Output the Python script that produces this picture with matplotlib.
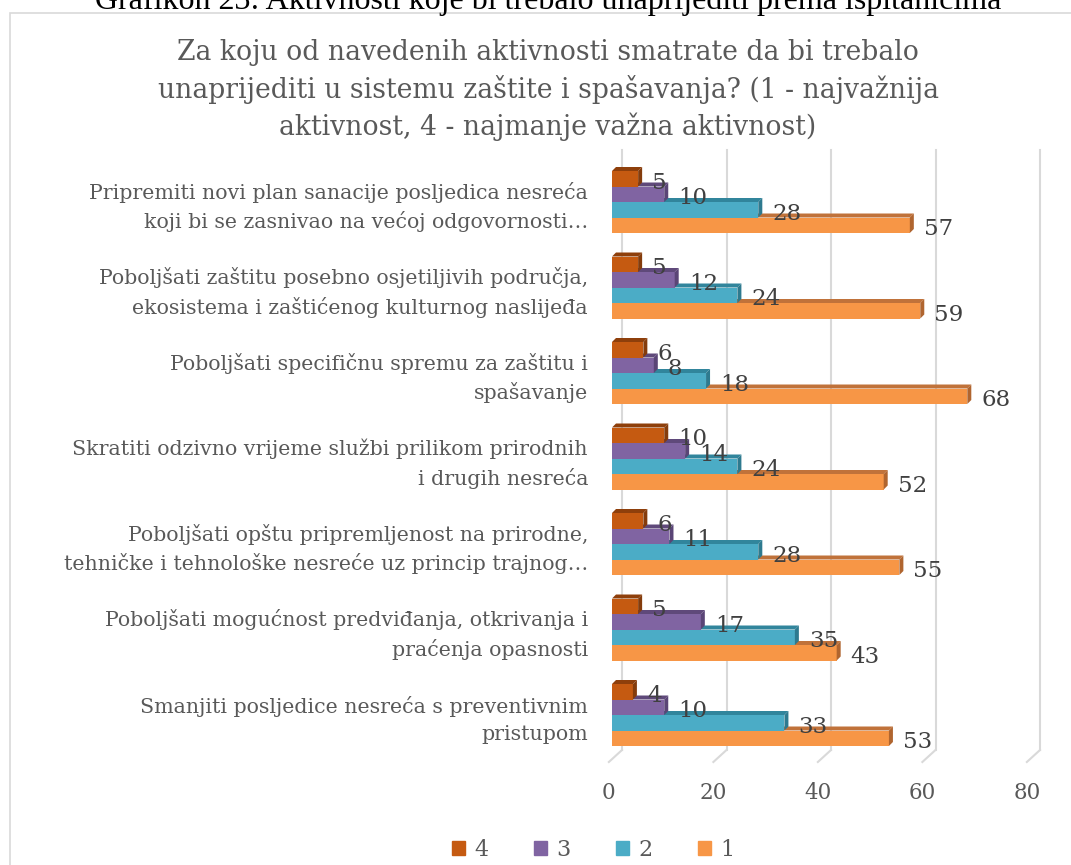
#!/usr/bin/env python3

import matplotlib.pyplot as plt
from matplotlib.patches import Polygon, Rectangle
import numpy as np

# data, top group first
categories = [
    "Pripremiti novi plan sanacije posljedica nesreća\nkoji bi se zasnivao na većoj odgovornosti…",
    "Poboljšati zaštitu posebno osjetiljivih područja,\nekosistema i zaštićenog kulturnog naslijeđa",
    "Poboljšati specifičnu spremu za zaštitu i\nspašavanje",
    "Skratiti odzivno vrijeme službi prilikom prirodnih\ni drugih nesreća",
    "Poboljšati opštu pripremljenost na prirodne,\ntehničke i tehnološke nesreće uz princip trajnog…",
    "Poboljšati mogućnost predviđanja, otkrivanja i\npraćenja opasnosti",
    "Smanjiti posljedice nesreća s preventivnim\npristupom",
]
series_names = ["4", "3", "2", "1"]
vals_4 = [5, 5, 6, 10, 6, 5, 4]
vals_3 = [10, 12, 8, 14, 11, 17, 10]
vals_2 = [28, 24, 18, 24, 28, 35, 33]
vals_1 = [57, 59, 68, 52, 55, 43, 53]
x_ticks = [0, 20, 40, 60, 80]

front_colors = ["#C55A11", "#8064A2", "#4BACC6", "#F79646"]
top_colors = ["#8E3F0B", "#5F497A", "#31859C", "#C0723A"]
side_colors = ["#843C0C", "#5A4576", "#2E7A8F", "#B0652F"]

serif = "DejaVu Serif"

W, H = 1071, 865
fig = plt.figure(figsize=(W / 100, H / 100), dpi=100)

# chart border
fig.patches.append(Rectangle((10 / W, -0.01), 1.1, (H - 13) / H + 0.01,
                             transform=fig.transFigure, fill=False,
                             edgecolor="#D9D9D9", lw=1.2))

# caption above the chart (cut off at the top)
fig.text(548 / W, 1 - 9 / H, "Grafikon 23: Aktivnosti koje bi trebalo unaprijediti prema ispitanicima",
         ha="center", va="baseline", fontsize=23, family="Liberation Serif", color="black")

fig.text(548 / W, 1 - 90 / H,
         "Za koju od navedenih aktivnosti smatrate da bi trebalo\n"
         "unaprijediti u sistemu zaštite i spašavanja? (1 - najvažnija\n"
         "aktivnost, 4 - najmanje važna aktivnost)",
         ha="center", va="center", fontsize=19.2, family=serif,
         color="#595959", linespacing=1.4)

# plot area in pixels
left, right, top, bottom = 612, 1030, 150, 750
ax = fig.add_axes([left / W, 1 - bottom / H, (right - left) / W, (bottom - top) / H])
ax.set_xlim(0, 80)
pitch = 85.5
ax.set_ylim(6 + 35 / pitch, -52 / pitch)
ax.axis("off")

px_x = 80 / (right - left)
px_y = 1 / pitch
h = 15.5 * px_y
dx, dy = 4 * px_x, -4 * px_y
gx, gy = 10 * px_x, 12 * px_y
ymax = 6 + 35 / pitch

# 3D style gridlines
for v in x_ticks:
    ax.plot([v + gx, v + gx], [-52 / pitch, ymax], color="#D9D9D9", lw=1.5,
            zorder=0, clip_on=False)
    ax.plot([v + gx, v - 0.6], [ymax, ymax + gy], color="#D9D9D9", lw=1.5,
            zorder=0, clip_on=False)
    ax.text(v - 0.6, ymax + gy + 31 * px_y, str(v), ha="center", va="center",
            fontsize=15.5, family=serif, color="#595959")

all_vals = [vals_4, vals_3, vals_2, vals_1]
offsets = np.array([-1.5, -0.5, 0.5, 1.5]) * h
y = np.arange(len(categories))

# draw bottom series first so upper bars cover the top faces
for s in [3, 2, 1, 0]:
    vals = all_vals[s]
    ys = y + offsets[s]
    z = 2 + (3 - s)
    ax.barh(ys, vals, height=h, color=front_colors[s], zorder=z + 0.5,
            edgecolor="none")
    for yi, w in zip(ys, vals):
        t, b = yi - h / 2, yi + h / 2
        ax.add_patch(Polygon([(0, t), (dx, t + dy), (w + dx, t + dy), (w, t)],
                             closed=True, color=top_colors[s], zorder=z, lw=0))
        ax.add_patch(Polygon([(w, t), (w + dx, t + dy), (w + dx, b + dy), (w, b)],
                             closed=True, color=side_colors[s], zorder=z + 0.6, lw=0))
        ax.annotate(str(w), (w, yi), xytext=(14, -4), textcoords="offset pixels",
                    ha="left", va="center", fontsize=16.5, family=serif,
                    color="#404040", zorder=10)

# category labels
for yi, lab in zip(y, categories):
    ax.text(-24 * px_x, yi + 5 * px_y, lab, ha="right", va="center",
            fontsize=14.8, family=serif, color="#595959", linespacing=1.5)

# legend
handles = [Rectangle((0, 0), 1, 1, color=c) for c in front_colors]
fig.legend(handles, series_names, loc="center", bbox_to_anchor=(593 / W, 1 - 850 / H),
           ncol=4, frameon=False, handlelength=0.6, handleheight=0.6,
           columnspacing=2.05, handletextpad=0.4,
           prop={"family": serif, "size": 16}, labelcolor="#595959")

fig.savefig("out.png", dpi=100)
